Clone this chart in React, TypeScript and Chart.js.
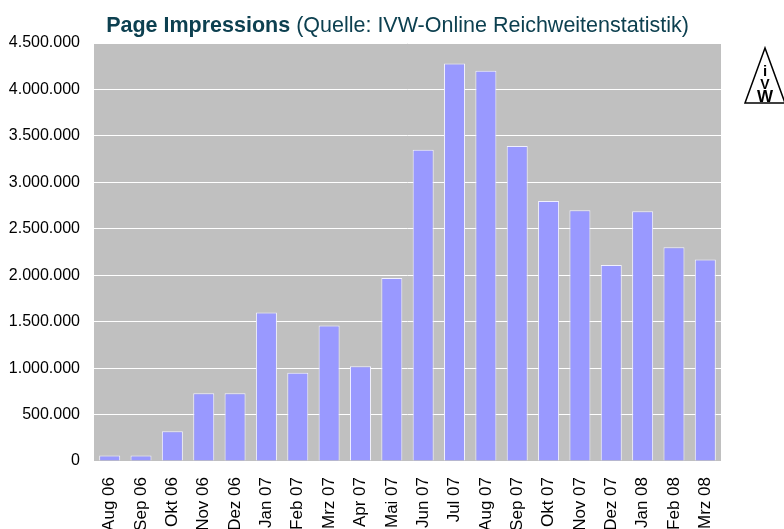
import React, { useEffect, useRef } from "react";
import { Chart, registerables } from "chart.js";

Chart.register(...registerables);

const months = [
  "Aug 06", "Sep 06", "Okt 06", "Nov 06", "Dez 06", "Jan 07", "Feb 07", "Mrz 07",
  "Apr 07", "Mai 07", "Jun 07", "Jul 07", "Aug 07", "Sep 07", "Okt 07", "Nov 07",
  "Dez 07", "Jan 08", "Feb 08", "Mrz 08",
];
const pageImpressions = [
  60000, 60000, 320000, 730000, 730000, 1600000, 950000, 1460000,
  1020000, 1970000, 3350000, 4280000, 4200000, 3390000, 2800000, 2700000,
  2110000, 2690000, 2300000, 2170000,
];
const titleBold = "Page Impressions";
const titleRest = " (Quelle: IVW-Online Reichweitenstatistik)";
const yMax = 4500000;
const yStep = 500000;

const FONT = "'Liberation Sans', Arial, sans-serif";

const fmt = (v: number) => String(Math.round(v)).replace(/\B(?=(\d{3})+(?!\d))/g, ".");

const bgPlugin = {
  id: "plotBg",
  beforeDraw(chart: any) {
    const { ctx, chartArea } = chart;
    ctx.save();
    ctx.fillStyle = "#c0c0c0";
    ctx.fillRect(chartArea.left, chartArea.top, chartArea.right - chartArea.left, chartArea.bottom - chartArea.top);
    ctx.restore();
  },
};

const decorPlugin = {
  id: "decor",
  afterDraw(chart: any) {
    const { ctx } = chart;
    ctx.save();
    // title
    ctx.fillStyle = "#0d4050";
    ctx.textBaseline = "alphabetic";
    ctx.textAlign = "left";
    const ts = 21.5;
    ctx.font = `bold ${ts}px ${FONT}`;
    const wb = ctx.measureText(titleBold).width;
    ctx.font = `${ts}px ${FONT}`;
    const wr = ctx.measureText(titleRest).width;
    const x0 = 397.5 - (wb + wr) / 2;
    ctx.font = `bold ${ts}px ${FONT}`;
    ctx.fillText(titleBold, x0, 32);
    ctx.font = `${ts}px ${FONT}`;
    ctx.fillText(titleRest, x0 + wb, 32);

    // IVW logo
    ctx.strokeStyle = "#000";
    ctx.lineWidth = 1.5;
    ctx.beginPath();
    ctx.moveTo(765, 48);
    ctx.lineTo(745, 103);
    ctx.lineTo(785, 103);
    ctx.closePath();
    ctx.stroke();
    ctx.fillStyle = "#000";
    ctx.textAlign = "center";
    ctx.font = `bold 15px ${FONT}`;
    ctx.fillText("i", 765, 76);
    ctx.font = `bold 14px ${FONT}`;
    ctx.fillText("V", 765, 88.5);
    ctx.font = `bold 17px ${FONT}`;
    ctx.fillText("W", 765, 102);
    ctx.restore();
  },
};

export default function App() {
  const ref = useRef<HTMLCanvasElement>(null);
  useEffect(() => {
    if (!ref.current) return;
    const chart = new Chart(ref.current, {
      type: "bar",
      data: {
        labels: months,
        datasets: [
          {
            data: pageImpressions,
            backgroundColor: "#9999ff",
            borderColor: "#f0f0ff",
            borderWidth: 1,
            barPercentage: 0.67,
            categoryPercentage: 1,
          },
        ],
      },
      options: {
        animation: false,
        responsive: false,
        layout: { padding: { left: 0, right: 63, top: 43, bottom: 0 } },
        plugins: { legend: { display: false }, title: { display: false }, tooltip: { enabled: false } },
        scales: {
          x: {
            grid: { display: false, drawTicks: false },
            border: { display: false },
            ticks: {
              autoSkip: false,
              maxRotation: 90,
              minRotation: 90,
              padding: 16,
              color: "#000",
              font: { family: FONT, size: 17 },
            },
            afterFit: (s: any) => { s.height = 68; },
          },
          y: {
            min: 0,
            max: yMax,
            grid: { color: "#ffffff", lineWidth: 1, drawTicks: false },
            border: { display: false },
            ticks: {
              stepSize: yStep,
              padding: 14,
              color: "#000",
              font: { family: FONT, size: 16 },
              callback: (v: any) => fmt(Number(v)),
            },
            afterFit: (s: any) => { s.width = 94; },
          },
        },
      },
      plugins: [bgPlugin, decorPlugin],
    });
    return () => chart.destroy();
  }, []);
  return (
    <div style={{ position: "absolute", left: 0, top: 0, width: 784, height: 529 }}>
      <canvas ref={ref} width={784} height={529} />
    </div>
  );
}
